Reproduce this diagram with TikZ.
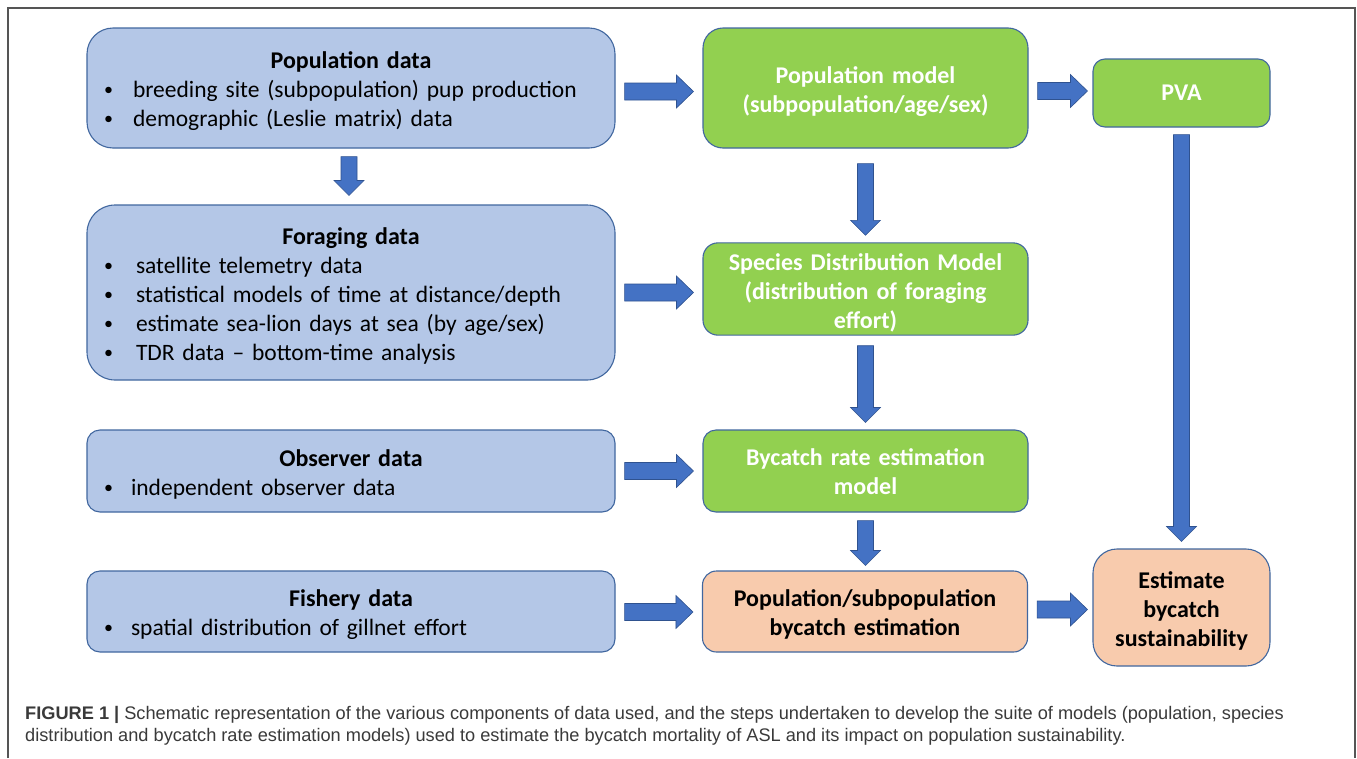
\documentclass[tikz,border=0pt]{standalone}
\usepackage{fontspec}
\setmainfont{Carlito}
\newfontfamily\capfont{Liberation Sans}
\usetikzlibrary{calc}
\definecolor{bluefill}{HTML}{B4C7E7}
\definecolor{greenfill}{HTML}{92D050}
\definecolor{orangefill}{HTML}{F8CBAD}
\definecolor{boxline}{HTML}{41679F}
\definecolor{arrowfill}{HTML}{4472C4}
\definecolor{arrowline}{HTML}{2F528F}
\definecolor{framegray}{HTML}{555555}
\definecolor{captext}{HTML}{3A3A3A}
\newcommand\topstrut[1][23pt]{\rule{0pt}{#1}}
\newcommand\boxtitle[1]{{\centering\fontsize{24}{29}\selectfont\bfseries\topstrut#1\par}}
\newcommand\bul[2][29pt]{\par\noindent\makebox[#1][l]{\raisebox{1.5pt}{\fontsize{18}{18}\selectfont\textbullet}}#2}
\newcommand\harrow[2]{\path[blockarrow] let \p1=(#1), \p2=(#2) in
  (\x1,\y1+8.5pt) -- (\x2-17pt,\y1+8.5pt) -- (\x2-17pt,\y1+16.5pt) -- (\x2,\y1)
  -- (\x2-17pt,\y1-16.5pt) -- (\x2-17pt,\y1-8.5pt) -- (\x1,\y1-8.5pt) -- cycle;}
\newcommand\varrow[2]{\path[blockarrow] let \p1=(#1), \p2=(#2) in
  (\x1-8pt,\y1) -- (\x1-8pt,\y2+15pt) -- (\x1-15pt,\y2+15pt) -- (\x1,\y2)
  -- (\x1+15pt,\y2+15pt) -- (\x1+8pt,\y2+15pt) -- (\x1+8pt,\y1) -- cycle;}
\begin{document}
\begin{tikzpicture}[x=1pt,y=-1pt,
  basebox/.style={draw=boxline, line width=1.1pt, font=\fontsize{23.5}{29}\selectfont},
  bluebox/.style={basebox, fill=bluefill, minimum width=528pt, text width=494pt,
    inner xsep=17pt, align=left},
  greenbox/.style={basebox, fill=greenfill, text=white, align=center,
    font=\fontsize{24}{29}\selectfont\bfseries},
  orangebox/.style={basebox, fill=orangefill, text=black, align=center,
    font=\fontsize{24}{29}\selectfont\bfseries},
  blockarrow/.style={fill=arrowfill, draw=arrowline, line width=0.6pt},
]
\useasboundingbox (0,0) rectangle (1357,758);
\fill[white] (0,0) rectangle (1357,758);
\draw[framegray, line width=1.2pt] (8,758) -- (8,8) -- (1355,8) -- (1355,758);

% left column
\node[bluebox, minimum height=120pt, rounded corners=26pt] (popdata) at (351,88)
  {\boxtitle{Population data}\bul{breeding site (subpopulation) pup production}\bul{demographic (Leslie matrix) data}};
\node[bluebox, minimum height=175pt, rounded corners=28pt] (forage) at (351,292.5)
  {\boxtitle{Foraging data}\bul[32pt]{satellite telemetry data}\bul[32pt]{statistical models of time at distance/depth}\bul[32pt]{estimate sea-lion days at sea (by age/sex)}\bul[32pt]{TDR data -- bottom-time analysis}};
\node[bluebox, minimum height=82pt, rounded corners=13pt] (observer) at (351,471)
  {\boxtitle{Observer data}\bul[27pt]{independent observer data}};
\node[bluebox, minimum height=81pt, rounded corners=13pt] (fishery) at (351,611.5)
  {\boxtitle{Fishery data}\bul[27pt]{spatial distribution of gillnet effort}};

% middle column
\node[greenbox, text width=305pt, minimum width=325pt, minimum height=120pt, rounded corners=20pt] (popmodel) at (865.5,88)
  {\topstrut[24pt]Population model\\(subpopulation/age/sex)};
\node[greenbox, text width=305pt, minimum width=325pt, minimum height=90pt, rounded corners=15pt] (sdm) at (865.5,289)
  {\topstrut[24pt]Species Distribution Model\\(distribution of foraging\\effort)};
\node[greenbox, text width=305pt, minimum width=325pt, minimum height=82pt, rounded corners=13pt] (bycatch) at (865.5,471)
  {\topstrut[19pt]Bycatch rate estimation\\model};
\node[orangebox, text width=305pt, minimum width=325pt, minimum height=81pt, rounded corners=14pt] (popsub) at (865,611.5)
  {\topstrut[23pt]Population/subpopulation\\bycatch estimation};

% right column
\node[greenbox, minimum width=177pt, minimum height=68pt, rounded corners=12pt] (pva) at (1181.5,93)
  {PVA};
\node[orangebox, text width=160pt, minimum width=177pt, minimum height=117pt, rounded corners=24pt] (estimate) at (1181.5,607.5)
  {\topstrut[23pt]Estimate\\bycatch\\sustainability};

% arrows
\harrow{$(popdata.east)+(9,3.5)$}{$(popmodel.west)+(-9,0)$}
\harrow{$(popmodel.east)+(9,3)$}{$(pva.west)+(-5,0)$}
\harrow{$(forage.east)+(9,0)$}{$(sdm.west)+(-9,0)$}
\harrow{$(observer.east)+(9,0)$}{$(bycatch.west)+(-9,0)$}
\harrow{$(fishery.east)+(9,0.5)$}{$(popsub.west)+(-9,0)$}
\harrow{$(popsub.east)+(9,-2)$}{$(estimate.west)+(-5,0)$}
\varrow{$(popdata.south)+(-2,8)$}{$(forage.north)+(0,-9)$}
\varrow{$(popmodel.south)+(0,15)$}{$(sdm.north)+(0,-7)$}
\varrow{$(sdm.south)+(0,10)$}{$(bycatch.north)+(0,-7)$}
\varrow{$(bycatch.south)+(0,8)$}{$(popsub.north)+(0,-5)$}
\varrow{$(pva.south)+(0,7)$}{$(estimate.north)+(0,-7)$}

% caption
\node[anchor=north west, inner sep=0pt, align=left, text=captext,
  font=\capfont\fontsize{18.2}{22}\selectfont] (caption) at (25,706)
  {\textbf{FIGURE 1 |} Schematic representation of the various components of data used, and the steps undertaken to develop the suite of models (population, species\\
   distribution and bycatch rate estimation models) used to estimate the bycatch mortality of ASL and its impact on population sustainability.};
\end{tikzpicture}
\end{document}
